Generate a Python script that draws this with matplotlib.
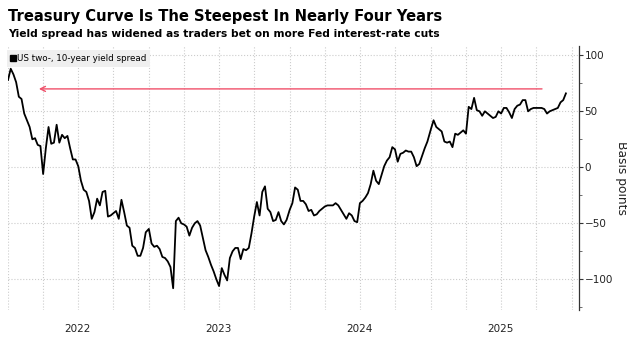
import pandas as pd
import matplotlib.pyplot as plt
import matplotlib.dates as mdates
from matplotlib.ticker import MultipleLocator, FuncFormatter

# weekly readings of the US 2s10s spread, basis points
spread_2022 = [78, 88, 83, 76, 63, 61, 48, 42, 36, 25, 26, 20, 19, -6, 17, 36, 21, 22, 38, 22,
               29, 26, 28, 17, 7, 7, 1, -12, -20, -22, -30, -46, -40, -28, -34, -22, -21, -44,
               -43, -41, -39, -46, -29, -40, -52, -54, -70, -72, -79, -79, -72, -58]
spread_2023 = [-55, -68, -71, -70, -73, -80, -81, -84, -89, -108, -48, -45, -50, -51, -53, -61,
               -54, -50, -48, -52, -63, -74, -80, -87, -93, -100, -106, -90, -96, -101, -81, -75,
               -72, -72, -82, -73, -74, -72, -59, -44, -31, -43, -22, -17, -37, -40, -48, -47,
               -40, -48, -51, -47]
spread_2024 = [-38, -32, -18, -20, -30, -30, -33, -39, -38, -43, -42, -39, -37, -35, -34, -34,
               -34, -32, -34, -38, -42, -46, -41, -43, -48, -49, -32, -30, -27, -23, -15, -3,
               -12, -15, -7, 1, 6, 9, 18, 16, 5, 12, 13, 15, 14, 14, 9, 1, 3, 10, 17, 23]
spread_2025 = [34, 42, 36, 34, 32, 23, 22, 23, 18, 30, 29, 31, 33, 30, 54, 52, 62, 51, 50, 46,
               50, 48, 46, 44, 45, 50, 48, 53, 53, 49, 44, 52, 55, 56, 60, 60, 50, 52, 53, 53,
               53, 53, 52, 48, 50, 51, 52, 53, 58, 60, 66]

years = [2022, 2023, 2024, 2025]
yearly = [spread_2022, spread_2023, spread_2024, spread_2025]

# level the curve last hit, and the span of the arrow
arrow_level = 70
arrow_from = "2025-10-16"
arrow_to = "2022-03-22"

title = "Treasury Curve Is The Steepest In Nearly Four Years"
subtitle = "Yield spread has widened as traders bet on more Fed interest-rate cuts"
series_name = "US two-, 10-year yield spread"

parts = []
for yr, vals in zip(years, yearly):
    idx = pd.date_range(f"{yr}-01-01", periods=len(vals), freq="7D")
    parts.append(pd.Series(vals, index=idx))
spread = pd.concat(parts)

fig = plt.figure(figsize=(6.27, 3.37), dpi=100)
ax = fig.add_axes([0.0128, 0.0801, 0.9107, 0.7834])

ax.plot(spread.index, spread.values, color="black", lw=1.3)

# red arrow back to the last time the spread was this wide
ax.annotate("", xy=(pd.Timestamp(arrow_to), arrow_level),
            xytext=(pd.Timestamp(arrow_from), arrow_level),
            arrowprops=dict(arrowstyle="->", color="#f0506a", lw=1.0,
                            shrinkA=0, shrinkB=0, mutation_scale=9))

ax.set_xlim(pd.Timestamp("2022-01-01"), pd.Timestamp("2026-01-20"))
ax.set_ylim(-127.4, 108.3)

# axes on the right
ax.yaxis.tick_right()
ax.yaxis.set_label_position("right")
ax.yaxis.set_major_locator(MultipleLocator(50))
ax.yaxis.set_minor_locator(MultipleLocator(25))
ax.tick_params(axis="y", which="major", length=3, width=0.8, colors="#333333",
               labelsize=7.5, pad=1, labelcolor="#222222")
ax.tick_params(axis="y", which="minor", length=2, width=0.6, colors="#555555")
ax.set_ylabel("Basis points", rotation=270, fontsize=8.8, labelpad=11, color="#222222")


def year_label(x, pos):
    d = mdates.num2date(x)
    return str(d.year) if d.month == 7 else ""


ax.xaxis.set_major_locator(mdates.MonthLocator(bymonth=[1, 4, 7, 10]))
ax.xaxis.set_major_formatter(FuncFormatter(year_label))
ax.tick_params(axis="x", which="both", length=0, labelsize=7.5, pad=10, labelcolor="#222222")

ax.grid(True, which="major", color="#cccccc", ls=":", lw=0.8)

for s in ["left", "top", "bottom"]:
    ax.spines[s].set_visible(False)
ax.spines["right"].set_color("#333333")
ax.spines["right"].set_linewidth(0.9)

leg = ax.legend([plt.Line2D([], [], marker="s", ls="none", color="black", markersize=5)],
                [series_name], loc="upper left", bbox_to_anchor=(-0.001, 0.985),
                fontsize=6.3, frameon=True, handlelength=0.4, handletextpad=0.2,
                borderpad=0.45, borderaxespad=0)
leg.get_frame().set_facecolor("#efefef")
leg.get_frame().set_edgecolor("none")
leg.get_frame().set_alpha(1)
leg.get_frame().set_boxstyle("square", pad=0)

fig.text(0.0128, 0.938, title, fontsize=10.6, fontweight="bold", color="black")
fig.text(0.0128, 0.89, subtitle, fontsize=7.7, fontweight="bold", color="black")

fig.savefig("out.png", dpi=100)
